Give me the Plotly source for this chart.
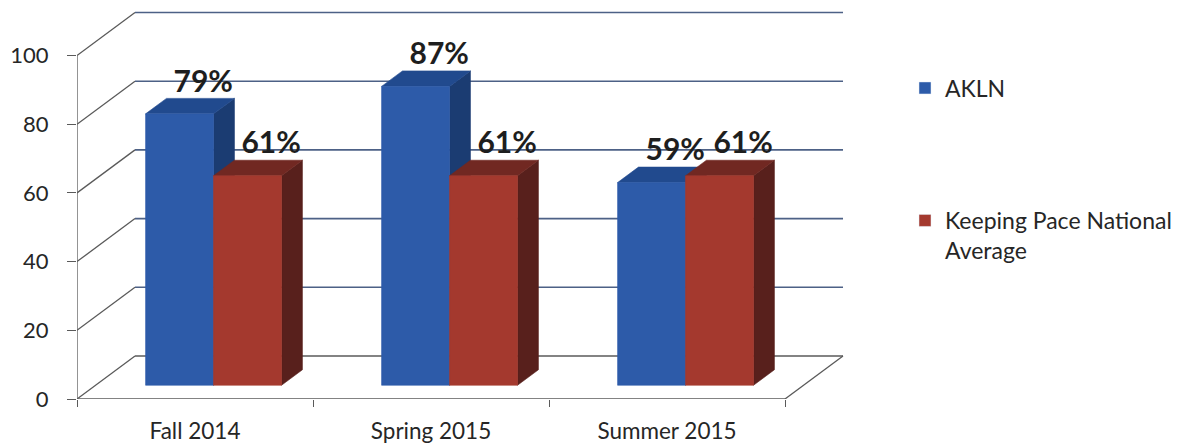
import plotly.graph_objects as go

# ---------------- data ----------------
categories = ["Fall 2014", "Spring 2015", "Summer 2015"]
series_names = ["AKLN", "Keeping Pace National<br>Average"]
akln = [79, 87, 59]
keeping_pace = [61, 61, 61]
y_ticks = [0, 20, 40, 60, 80, 100]

# ---------------- style ----------------
FONT = "Lato"
TEXT_COLOR = "#262626"
front_colors = ["#2d5ba9", "#a4392e"]
top_colors = ["#214a8e", "#712822"]
side_colors = ["#1b3c72", "#58201c"]
BACK_LINE = dict(color="#4d6186", width=1.6)
DIAG_LINE = dict(color="#5a5a5a", width=1.3)

W = 0.288          # bar width (category units)
F0, F1 = 0.32, 0.68  # bar depth span as fraction of floor depth
DX, DY = 0.2458, 12.52  # oblique depth offset of the back wall (x units, y units)
LBL_DX = 0.10
LBL_DY = -0.2

n = len(categories)
fig = go.Figure()

# ---------------- 3D frame (walls / gridlines) ----------------
x_left, x_right = -0.5, n - 0.5
for v in y_ticks:
    fig.add_shape(type="line", x0=x_left, y0=v, x1=x_left + DX, y1=v + DY,
                  line=DIAG_LINE, layer="below")
    fig.add_shape(type="line", x0=x_left + DX, y0=v + DY, x1=x_right + DX, y1=v + DY,
                  line=BACK_LINE if v > 0 else DIAG_LINE, layer="below")
fig.add_shape(type="line", x0=x_left, y0=0, x1=x_left, y1=max(y_ticks), line=DIAG_LINE, layer="below")
fig.add_shape(type="line", x0=x_left, y0=0, x1=x_right, y1=0, line=DIAG_LINE, layer="below")
fig.add_shape(type="line", x0=x_right, y0=0, x1=x_right + DX, y1=DY, line=DIAG_LINE, layer="below")

# ---------------- bars (front / top / side faces) ----------------
series = [akln, keeping_pace]
b0 = F0 * DY
ddx, ddy = (F1 - F0) * DX, (F1 - F0) * DY


def face(xs, ys, color):
    fig.add_trace(go.Scatter(x=xs + [xs[0]], y=ys + [ys[0]], mode="lines", fill="toself",
                             fillcolor=color, line=dict(color=color, width=0.6),
                             hoverinfo="skip", showlegend=False))


for i in range(n):
    for s, vals in enumerate(series):
        v = vals[i]
        xl = i + F0 * DX - W + s * W
        xr = xl + W
        top = b0 + v
        # side
        face([xr, xr + ddx, xr + ddx, xr], [b0, b0 + ddy, top + ddy, top], side_colors[s])
        # top
        face([xl, xr, xr + ddx, xl + ddx], [top, top, top + ddy, top + ddy], top_colors[s])
        # front
        face([xl, xr, xr, xl], [b0, b0, top, top], front_colors[s])

# ---------------- data labels ----------------
for s, vals in enumerate(series):
    xs = [i + F0 * DX - W + s * W + W / 2 + LBL_DX for i in range(n)]
    ys = [v + F1 * DY + LBL_DY for v in vals]
    fig.add_trace(go.Scatter(x=xs, y=ys, mode="text", text=[f"{v}%" for v in vals],
                             textposition="top center",
                             textfont=dict(family=FONT, size=30, color="#1e1e1e", weight="bold"),
                             hoverinfo="skip", showlegend=False))

# ---------------- legend entries ----------------
fig.add_trace(go.Bar(x=[None], y=[None], name=series_names[0], marker_color=front_colors[0],
                     legend="legend"))
fig.add_trace(go.Bar(x=[None], y=[None], name=series_names[1], marker_color=front_colors[1],
                     legend="legend2"))

PX_PER_X = 236.0
PX_PER_Y = 3.435
ML, MR, MT, MB = 77, 343, 10, 45
plot_w = 1191 - ML - MR
plot_h = 444 - MT - MB

fig.update_layout(
    width=1191, height=444,
    margin=dict(l=ML, r=MR, t=MT, b=MB, autoexpand=False),
    paper_bgcolor="white", plot_bgcolor="white",
    font=dict(family=FONT, color=TEXT_COLOR),
    barmode="overlay",
    xaxis=dict(type="linear", range=[x_left, x_left + plot_w / PX_PER_X], automargin=False,
               tickmode="array", tickvals=list(range(n)), ticktext=categories,
               ticks="", showgrid=False, zeroline=False, showline=False,
               tickfont=dict(family=FONT, size=22.5, color=TEXT_COLOR),
               ticklabelstandoff=16,
               minor=dict(tickmode="array", tickvals=[k - 0.5 for k in range(n + 1)],
                          ticks="outside", ticklen=7, tickcolor="#5a5a5a", tickwidth=1.3,
                          showgrid=False),
               fixedrange=True),
    yaxis=dict(range=[0, plot_h / PX_PER_Y], tickmode="array", tickvals=y_ticks, automargin=False,
               ticks="outside", ticklen=9, tickcolor="#5a5a5a", tickwidth=1.3,
               showgrid=False, zeroline=False, showline=False,
               tickfont=dict(family=FONT, size=22, color=TEXT_COLOR),
               ticklabelstandoff=14, fixedrange=True),
    legend=dict(xref="container", yref="container", x=905 / 1191, y=1 - 88 / 444,
                xanchor="left", yanchor="middle", bgcolor="rgba(0,0,0,0)",
                font=dict(family=FONT, size=23, color=TEXT_COLOR)),
    legend2=dict(xref="container", yref="container", x=905 / 1191, y=1 - 199 / 444,
                 xanchor="left", yanchor="top", bgcolor="rgba(0,0,0,0)", valign="top",
                 font=dict(family=FONT, size=23, color=TEXT_COLOR)),
)

fig.write_html("out.html", config={"displayModeBar": False},
               post_script="document.body.style.margin='0';document.body.style.padding='0';"
                           "document.body.style.overflow='hidden';")
